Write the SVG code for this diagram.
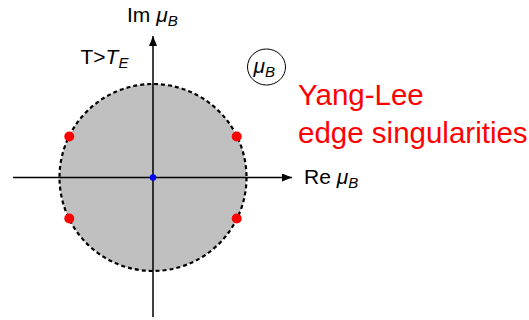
<svg xmlns="http://www.w3.org/2000/svg" width="529" height="320" viewBox="0 0 529 320">
<style>
text { font-family: "Liberation Sans", Arial, sans-serif; fill: #000; }
.lbl { font-size: 21px; }
.it { font-style: italic; }
.sub { font-size: 15px; font-style: italic; }
.red { fill: #ff0000; font-size: 29.5px; }
.axis { stroke: #000; stroke-width: 1.5; fill: none; }
.zero { fill: #ff0000; }
</style>
<defs>
<marker id="arr" viewBox="0 0 10 8" refX="10" refY="4" markerWidth="10" markerHeight="8" markerUnits="userSpaceOnUse" orient="auto">
<path d="M0,0 L10,4 L0,8 Z" fill="#000"/>
</marker>
</defs>
<g id="region">
<circle cx="153" cy="177.5" r="93.5" fill="#c0c0c0" stroke="#000" stroke-width="2.2" stroke-dasharray="4,3"/>
</g>
<g id="connectors">
<line class="axis" x1="13" y1="177.5" x2="292" y2="177.5" marker-end="url(#arr)"/>
<line class="axis" x1="153" y1="317" x2="153" y2="36" marker-end="url(#arr)"/>
</g>
<g id="zeros">
<circle class="zero" cx="69.3" cy="136.5" r="5"/>
<circle class="zero" cx="236.7" cy="136.5" r="5"/>
<circle class="zero" cx="69.3" cy="218.5" r="5"/>
<circle class="zero" cx="236.7" cy="218.5" r="5"/>
</g>
<g id="origin">
<circle cx="153" cy="177.5" r="3.3" fill="#0000ff"/>
</g>
<g id="im-label">
<text class="lbl" x="127" y="22">Im <tspan class="it">μ</tspan><tspan class="sub" dy="4">B</tspan></text>
</g>
<g id="re-label">
<text class="lbl" x="304" y="183.5">Re <tspan class="it">μ</tspan><tspan class="sub" dy="4">B</tspan></text>
</g>
<g id="temp-label">
<text class="lbl" x="80.5" y="64">T&gt;<tspan class="it">T</tspan><tspan class="sub" dy="4">E</tspan></text>
</g>
<g id="plane-label">
<ellipse cx="266.5" cy="67" rx="19" ry="18" fill="none" stroke="#000" stroke-width="1"/>
<text class="lbl" x="253.5" y="72.5"><tspan class="it">μ</tspan><tspan class="sub" dy="4">B</tspan></text>
</g>
<g id="yl-label">
<text class="red" x="298" y="105">Yang-Lee</text>
<text class="red" x="298" y="143">edge singularities</text>
</g>
</svg>
